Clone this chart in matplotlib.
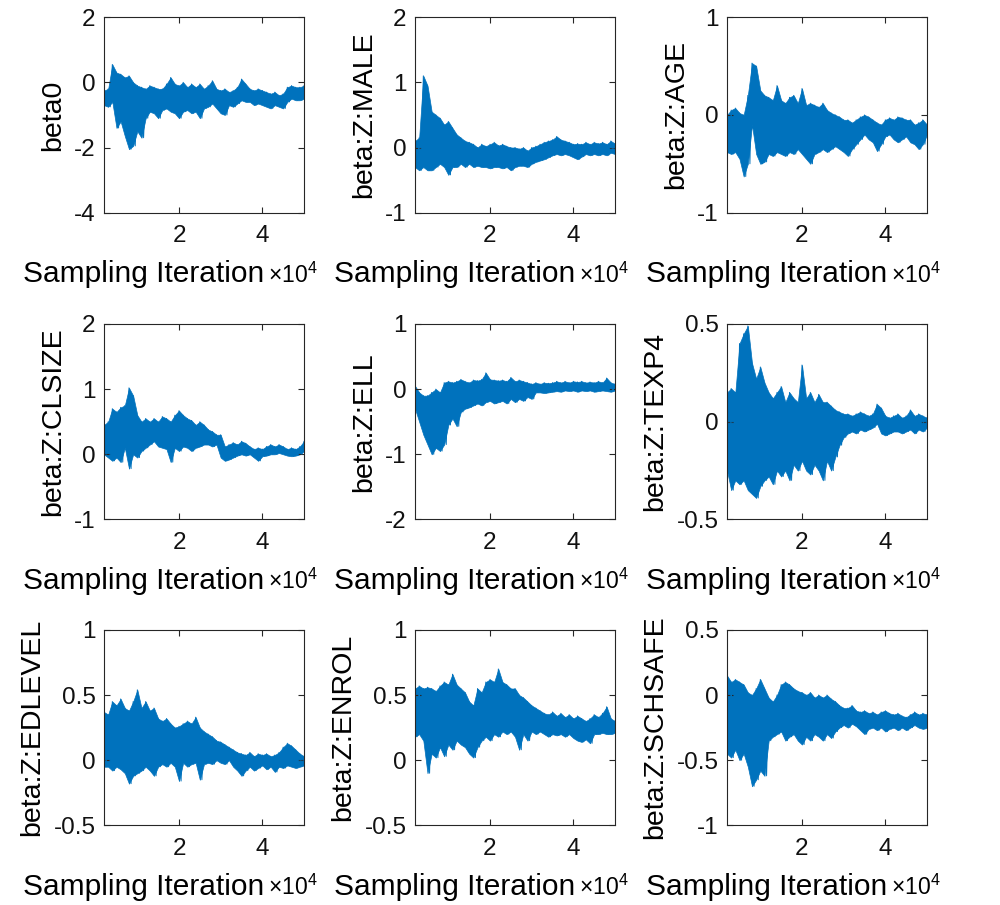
import numpy as np
import matplotlib
matplotlib.use('Agg')
import matplotlib.pyplot as plt

plt.rcParams['font.family'] = ['Liberation Sans', 'DejaVu Sans']
plt.rcParams['mathtext.fontset'] = 'custom'
plt.rcParams['mathtext.rm'] = 'Liberation Sans'
plt.rcParams['axes.unicode_minus'] = False

# sampling iterations (x10^4 on the axis), one value every 1000 iterations
iters = np.arange(2000, 50001, 1000)

names = ['beta0', 'beta:Z:MALE', 'beta:Z:AGE',
         'beta:Z:CLSIZE', 'beta:Z:ELL', 'beta:Z:TEXP4',
         'beta:Z:EDLEVEL', 'beta:Z:ENROL', 'beta:Z:SCHSAFE']
ylims = [(-4, 2), (-1, 2), (-1, 1),
         (-1, 2), (-2, 1), (-0.5, 0.5),
         (-0.5, 1), (-0.5, 1), (-1, 0.5)]
yticks = [[-4, -2, 0, 2], [-1, 0, 1, 2], [-1, 0, 1],
          [-1, 0, 1, 2], [-2, -1, 0, 1], [-0.5, 0, 0.5],
          [-0.5, 0, 0.5, 1], [-0.5, 0, 0.5, 1], [-1, -0.5, 0, 0.5]]

# upper / lower envelope of each trace
beta0_hi = [-0.25, -0.2, 0.55, 0.3, 0.25, 0.15, 0.2, 0.0, -0.1, -0.15, -0.2, -0.1, -0.15, -0.2, -0.2, -0.05,
            0.15, -0.05, -0.1, 0.0, -0.15, -0.05, -0.15, -0.05, -0.2, -0.1, 0.05, -0.2, -0.25, -0.2, -0.3, -0.25,
            -0.15, 0.1, -0.05, -0.2, -0.25, -0.2, -0.25, -0.3, -0.35, -0.3, -0.4, -0.35, -0.15, -0.1, -0.15, -0.15, -0.1]
beta0_lo = [-0.7, -0.75, -0.6, -1.4, -1.2, -1.65, -2.05, -1.95, -1.5, -1.7, -1.1, -0.9, -0.95, -1.1, -0.85, -0.8,
            -0.9, -0.95, -1.1, -0.9, -0.85, -0.95, -0.9, -1.1, -0.8, -0.75, -0.65, -0.8, -0.95, -1.0, -0.7, -0.75,
            -0.65, -0.55, -0.6, -0.6, -0.7, -0.65, -0.7, -0.75, -0.8, -0.7, -0.75, -0.8, -0.6, -0.5, -0.55, -0.55, -0.5]

male_hi = [0.1, 0.15, 1.1, 0.95, 0.55, 0.5, 0.45, 0.35, 0.4, 0.3, 0.2, 0.15, 0.1, 0.08, 0.05, 0.0,
           0.05, 0.02, 0.05, 0.08, 0.03, 0.05, 0.02, 0.0, 0.0, -0.02, 0.0, -0.05, 0.0, 0.02, 0.05, 0.08,
           0.1, 0.12, 0.17, 0.12, 0.1, 0.08, 0.05, 0.06, 0.05, 0.08, 0.05, 0.08, 0.06, 0.08, 0.05, 0.1, 0.06]
male_lo = [-0.3, -0.35, -0.3, -0.35, -0.35, -0.3, -0.25, -0.3, -0.42, -0.3, -0.3, -0.25, -0.3, -0.25, -0.3, -0.28,
           -0.3, -0.3, -0.32, -0.3, -0.3, -0.32, -0.3, -0.35, -0.3, -0.28, -0.28, -0.3, -0.25, -0.22, -0.2, -0.18,
           -0.15, -0.12, -0.1, -0.12, -0.1, -0.12, -0.15, -0.18, -0.14, -0.1, -0.12, -0.1, -0.12, -0.1, -0.12, -0.08, -0.1]

age_hi = [0.0, 0.05, 0.07, 0.02, 0.0, 0.2, 0.53, 0.5, 0.25, 0.2, 0.18, 0.15, 0.3, 0.15, 0.12, 0.18,
          0.2, 0.12, 0.27, 0.1, 0.12, 0.1, 0.08, 0.12, 0.05, 0.02, 0.0, -0.02, -0.05, -0.05, -0.08, -0.05,
          -0.02, 0.0, -0.02, -0.05, -0.08, -0.1, -0.05, -0.03, -0.05, -0.02, -0.03, -0.05, -0.05, -0.1, -0.08, -0.05, -0.1]
age_lo = [-0.38, -0.4, -0.38, -0.45, -0.63, -0.5, -0.1, -0.4, -0.5, -0.48, -0.4, -0.42, -0.38, -0.4, -0.42, -0.38,
          -0.4, -0.35, -0.4, -0.45, -0.5, -0.4, -0.38, -0.35, -0.38, -0.35, -0.32, -0.35, -0.38, -0.42, -0.35, -0.3,
          -0.25, -0.2, -0.25, -0.28, -0.37, -0.3, -0.22, -0.2, -0.25, -0.28, -0.25, -0.22, -0.28, -0.3, -0.35, -0.3, -0.2]

clsize_hi = [0.45, 0.5, 0.7, 0.65, 0.72, 0.75, 1.02, 0.9, 0.6, 0.5, 0.55, 0.5, 0.55, 0.5, 0.58, 0.55,
             0.5, 0.6, 0.67, 0.6, 0.55, 0.52, 0.45, 0.5, 0.45, 0.38, 0.35, 0.3, 0.3, 0.12, 0.15, 0.18,
             0.15, 0.2, 0.17, 0.12, 0.08, 0.1, 0.08, 0.12, 0.15, 0.12, 0.15, 0.12, 0.08, 0.1, 0.08, 0.12, 0.2]
clsize_lo = [0.0, -0.05, -0.1, -0.05, -0.12, 0.1, -0.22, 0.0, -0.05, 0.05, 0.1, 0.15, 0.2, 0.12, 0.1, 0.08,
             -0.12, 0.1, 0.05, 0.12, 0.1, 0.05, 0.1, 0.12, 0.15, 0.15, 0.12, 0.15, -0.05, -0.1, -0.08, -0.05,
             -0.02, 0.0, -0.02, 0.0, -0.05, -0.1, -0.03, -0.02, 0.0, 0.0, 0.02, 0.0, -0.02, -0.03, -0.02, 0.0, 0.05]

ell_hi = [0.05, -0.05, -0.1, -0.1, -0.05, 0.0, -0.05, 0.1, 0.12, 0.1, 0.12, 0.15, 0.12, 0.1, 0.14, 0.13,
          0.15, 0.25, 0.15, 0.14, 0.13, 0.14, 0.12, 0.18, 0.12, 0.14, 0.12, 0.1, 0.08, 0.1, 0.08, 0.1,
          0.09, 0.1, 0.12, 0.1, 0.12, 0.1, 0.12, 0.11, 0.12, 0.1, 0.11, 0.1, 0.12, 0.1, 0.17, 0.1, 0.08]
ell_lo = [-0.3, -0.5, -0.7, -0.85, -1.0, -0.9, -0.95, -0.85, -0.55, -0.45, -0.57, -0.35, -0.3, -0.28, -0.25, -0.22,
          -0.25, -0.2, -0.18, -0.22, -0.2, -0.18, -0.22, -0.15, -0.2, -0.15, -0.18, -0.12, -0.15, -0.05, -0.05, -0.06,
          -0.05, -0.04, -0.03, -0.04, -0.02, -0.03, -0.02, -0.04, -0.02, -0.03, -0.02, -0.04, -0.03, -0.02, -0.03, -0.04, -0.02]

texp4_hi = [0.15, 0.17, 0.15, 0.4, 0.45, 0.49, 0.3, 0.22, 0.28, 0.2, 0.15, 0.12, 0.15, 0.18, 0.1, 0.15,
            0.12, 0.1, 0.29, 0.12, 0.15, 0.1, 0.14, 0.1, 0.1, 0.08, 0.06, 0.05, 0.04, 0.04, 0.03, 0.04,
            0.05, 0.04, 0.03, 0.04, 0.09, 0.07, 0.03, 0.02, 0.03, 0.04, 0.02, 0.03, 0.06, 0.03, 0.04, 0.03, 0.02]
texp4_lo = [-0.25, -0.35, -0.3, -0.32, -0.3, -0.35, -0.37, -0.39, -0.33, -0.3, -0.28, -0.32, -0.25, -0.28, -0.25, -0.3,
            -0.22, -0.25, -0.2, -0.25, -0.27, -0.22, -0.25, -0.3, -0.2, -0.25, -0.18, -0.12, -0.08, -0.06, -0.05, -0.06,
            -0.04, -0.05, -0.04, -0.03, -0.01, -0.06, -0.07, -0.06, -0.05, -0.05, -0.06, -0.05, -0.04, -0.06, -0.04, -0.05, -0.03]

edlevel_hi = [0.37, 0.35, 0.45, 0.42, 0.47, 0.4, 0.38, 0.45, 0.54, 0.4, 0.45, 0.38, 0.4, 0.32, 0.3, 0.32,
              0.28, 0.25, 0.26, 0.28, 0.3, 0.28, 0.33, 0.25, 0.22, 0.2, 0.18, 0.15, 0.14, 0.12, 0.1, 0.08,
              0.06, 0.05, 0.04, 0.06, 0.03, 0.05, 0.04, 0.05, 0.03, 0.04, 0.06, 0.1, 0.13, 0.11, 0.08, 0.05, 0.03]
edlevel_lo = [-0.05, -0.05, -0.08, -0.05, -0.07, -0.1, -0.18, -0.12, -0.1, -0.08, -0.05, -0.08, -0.12, -0.05, -0.03, -0.05,
              -0.02, -0.05, -0.16, -0.02, -0.05, -0.03, -0.02, -0.15, -0.03, -0.02, -0.03, 0.0, -0.02, -0.03, 0.0, -0.05,
              -0.08, -0.12, -0.08, -0.05, -0.08, -0.06, -0.04, -0.07, -0.05, -0.09, -0.05, -0.06, -0.04, -0.05, -0.06, -0.05, -0.04]

enrol_hi = [0.55, 0.57, 0.55, 0.56, 0.55, 0.53, 0.57, 0.6, 0.58, 0.66, 0.58, 0.55, 0.52, 0.45, 0.42, 0.55,
            0.52, 0.6, 0.62, 0.6, 0.7, 0.6, 0.58, 0.55, 0.55, 0.5, 0.48, 0.45, 0.42, 0.4, 0.38, 0.36,
            0.35, 0.37, 0.34, 0.36, 0.33, 0.35, 0.32, 0.34, 0.32, 0.3, 0.32, 0.35, 0.33, 0.36, 0.41, 0.32, 0.3]
enrol_lo = [0.18, 0.2, 0.15, -0.1, 0.05, 0.02, 0.1, 0.03, 0.12, 0.08, 0.15, 0.12, 0.1, 0.05, 0.02, 0.1,
            0.15, 0.18, 0.15, 0.2, 0.18, 0.22, 0.2, 0.22, 0.18, 0.08, 0.2, 0.15, 0.22, 0.2, 0.22, 0.2,
            0.18, 0.2, 0.19, 0.2, 0.18, 0.2, 0.17, 0.15, 0.14, 0.16, 0.13, 0.2, 0.2, 0.21, 0.2, 0.2, 0.21]

schsafe_hi = [0.15, 0.1, 0.12, 0.1, 0.08, 0.02, 0.0, 0.05, 0.12, 0.05, -0.02, -0.05, 0.0, 0.08, 0.1, 0.08,
              0.05, 0.03, 0.02, 0.0, 0.02, -0.02, 0.0, -0.02, 0.0, -0.03, -0.05, -0.08, -0.1, -0.1, -0.08, -0.12,
              -0.13, -0.12, -0.14, -0.13, -0.15, -0.13, -0.12, -0.14, -0.15, -0.14, -0.16, -0.17, -0.15, -0.13, -0.15, -0.14, -0.15]
schsafe_lo = [-0.45, -0.48, -0.42, -0.5, -0.45, -0.55, -0.7, -0.65, -0.58, -0.62, -0.35, -0.32, -0.3, -0.28, -0.35, -0.32,
              -0.3, -0.35, -0.38, -0.32, -0.35, -0.3, -0.32, -0.35, -0.3, -0.33, -0.28, -0.25, -0.23, -0.25, -0.22, -0.24,
              -0.27, -0.3, -0.26, -0.25, -0.27, -0.25, -0.28, -0.26, -0.25, -0.27, -0.25, -0.27, -0.25, -0.23, -0.25, -0.26, -0.25]

his = [beta0_hi, male_hi, age_hi, clsize_hi, ell_hi, texp4_hi, edlevel_hi, enrol_hi, schsafe_hi]
los = [beta0_lo, male_lo, age_lo, clsize_lo, ell_lo, texp4_lo, edlevel_lo, enrol_lo, schsafe_lo]

line_col = '#0072BD'
ax_col = '#262626'

fig = plt.figure(figsize=(10, 9.05), dpi=100)

lefts = [0.104, 0.415, 0.727]
bottoms = [0.765, 0.426, 0.088]
w, h = 0.200, 0.216

for i in range(9):
    r, c = divmod(i, 3)
    ax = fig.add_axes([lefts[c], bottoms[r], w, h])
    hi = np.array(his[i])
    lo = np.array(los[i])
    # solid body of the trace plus a zigzag through the read peaks and troughs
    ax.fill_between(iters, lo, hi, color=line_col, linewidth=0.5)
    zx = np.column_stack([iters, iters + 500]).ravel()
    zy = np.column_stack([hi, lo]).ravel()
    ax.plot(zx, zy, color=line_col, linewidth=0.7)
    ax.set_xlim(2000, 50000)
    ax.set_ylim(*ylims[i])
    ax.set_xticks([20000, 40000], ['2', '4'])
    ax.set_yticks(yticks[i], ['%g' % t for t in yticks[i]])
    ax.tick_params(direction='in', top=True, right=True, length=4, width=0.8,
                   color=ax_col, labelcolor='#111111', labelsize=17.5)
    ax.tick_params(axis='x', pad=9)
    ax.tick_params(axis='y', pad=6)
    for s in ax.spines.values():
        s.set_color(ax_col)
        s.set_linewidth(0.8)
    ax.set_ylabel(names[i], fontsize=20.5, color='black', labelpad=6)
    ax.text(0.2, -0.357, 'Sampling Iteration', transform=ax.transAxes,
            ha='center', va='baseline', fontsize=21.5, color='black')
    ax.text(0.82, -0.357, r'$\times10^{4}$', transform=ax.transAxes,
            ha='left', va='baseline', fontsize=16.5, color='black')

fig.savefig('out.png', dpi=100)
